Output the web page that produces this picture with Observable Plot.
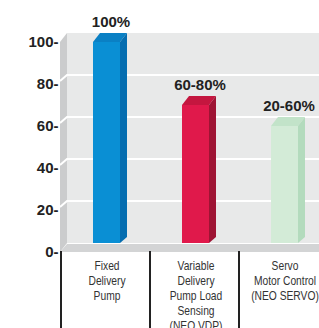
<!DOCTYPE html>
<html>
<head>
<meta charset="utf-8">
<script src="https://cdn.jsdelivr.net/npm/d3@7"></script>
<script src="https://cdn.jsdelivr.net/npm/@observablehq/plot@0.6"></script>
<style>
  html, body { margin: 0; padding: 0; background: #fff; overflow: hidden; }
</style>
</head>
<body>
<div id="chart"></div>
<script>
const categories = ["Fixed\nDelivery\nPump", "Variable\nDelivery\nPump Load\nSensing\n(NEO VDP)", "Servo\nMotor Control\n(NEO SERVO)"];
const values = [100, 70, 60];
const valueLabels = ["100%", "60-80%", "20-60%"];
const tickValues = [0, 20, 40, 60, 80, 100];
const gridValues = [20, 40, 60, 80];
const fronts = ["#0a8fd4", "#e0194b", "#d3ebd7"];
const tops = ["#0a80c4", "#c4163f", "#c2e3c9"];
const sides = ["#056db0", "#9e1434", "#b3dbbd"];

const data = categories.map((c, i) => ({cat: c, value: values[i], label: valueLabels[i], front: fronts[i], top: tops[i], side: sides[i]}));

const DX = 7, DY = -9, INSET_BOTTOM = 9, INSET_L = 32, INSET_R = 30;

function poly(g, pts, fill) {
  g.append("polygon").attr("points", pts.map(p => p.join(",")).join(" ")).attr("fill", fill);
}

const wallMark = (index, scales, values, dimensions) => {
  const g = d3.create("svg:g");
  const y = scales.y;
  const x0 = dimensions.marginLeft;
  const W = dimensions.width + 20;
  poly(g, [[x0, y(100)], [x0 + DX, y(100) + DY], [x0 + DX, y(0) + DY], [x0, y(0)]], "#cbcccd");
  poly(g, [[x0, y(0)], [x0 + DX, y(0) + DY + 1], [W, y(0) + DY + 1], [W, y(0)]], "#d3d4d5");
  for (const v of gridValues) {
    g.append("path")
      .attr("d", `M${x0},${y(v) - 3}L${x0 + DX},${y(v) + DY}L${W},${y(v) + DY}`)
      .attr("fill", "none").attr("stroke", "#ffffff").attr("stroke-width", 2);
  }
  return g.node();
};

const faceMark = (index, scales) => {
  const g = d3.create("svg:g");
  const x = scales.x, y = scales.y;
  for (const d of data) {
    const xl = x(d.cat) + INSET_L;
    const xr = x(d.cat) + x.bandwidth() - INSET_R;
    const yt = y(d.value);
    const yb = y(0) - INSET_BOTTOM;
    poly(g, [[xl, yt], [xl + DX, yt + DY], [xr + DX, yt + DY], [xr, yt]], d.top);
    poly(g, [[xr, yt], [xr + DX, yt + DY], [xr + DX, yb + DY + 3], [xr, yb]], d.side);
  }
  return g.node();
};

const dividerMark = (index, scales, values, dimensions) => {
  const g = d3.create("svg:g");
  const x = scales.x, y = scales.y;
  for (const c of categories) {
    g.append("line")
      .attr("x1", x(c)).attr("x2", x(c))
      .attr("y1", y(0) - 1).attr("y2", dimensions.height)
      .attr("stroke", "#222").attr("stroke-width", 2);
  }
  return g.node();
};

const categoryLabelMark = (index, scales) => {
  const g = d3.create("svg:g")
    .attr("font-family", "Liberation Sans, Arial, sans-serif")
    .attr("font-size", 13)
    .attr("fill", "#333")
    .attr("text-anchor", "middle");
  const x = scales.x, y = scales.y;
  for (const c of categories) {
    const cx = x(c) + x.bandwidth() / 2 + 1.5;
    const t = g.append("text").attr("transform", `translate(${cx},${y(0) + 18}) scale(0.79,1)`);
    c.split("\n").forEach((line, i) => {
      t.append("tspan").attr("x", 0).attr("y", i * 15).text(line);
    });
  }
  return g.node();
};

const chart = Plot.plot({
  width: 319,
  height: 328,
  marginTop: 42,
  marginBottom: 76,
  marginLeft: 60,
  marginRight: 0,
  style: {background: "#fff", overflow: "hidden"},
  x: {domain: categories, range: [60, 329], padding: 0, axis: null},
  y: {domain: [0, 100], axis: null, label: null},
  marks: [
    Plot.rect([0], {y1: 0, y2: 100, dx: DX, dy: DY, fill: "#e8e9e9"}),
    wallMark,
    Plot.barY(data, {x: "cat", y1: 0, y2: "value", fill: "front", insetLeft: INSET_L, insetRight: INSET_R, insetBottom: INSET_BOTTOM}),
    faceMark,
    dividerMark,
    Plot.text(data, {x: "cat", y: "value", text: "label", dx: 5, dy: -20, fontSize: 15, fontWeight: "bold", fill: "#222", fontFamily: "Liberation Sans, Arial, sans-serif"}),
    categoryLabelMark,
    Plot.axisY(tickValues, {tickSize: 0, tickPadding: 2, tickFormat: d => d + "-", label: null, fontSize: 15, fontWeight: "bold", fill: "#222", fontFamily: "Liberation Sans, Arial, sans-serif", anchor: "left"})
  ]
});
document.getElementById("chart").appendChild(chart);
</script>
</body>
</html>
